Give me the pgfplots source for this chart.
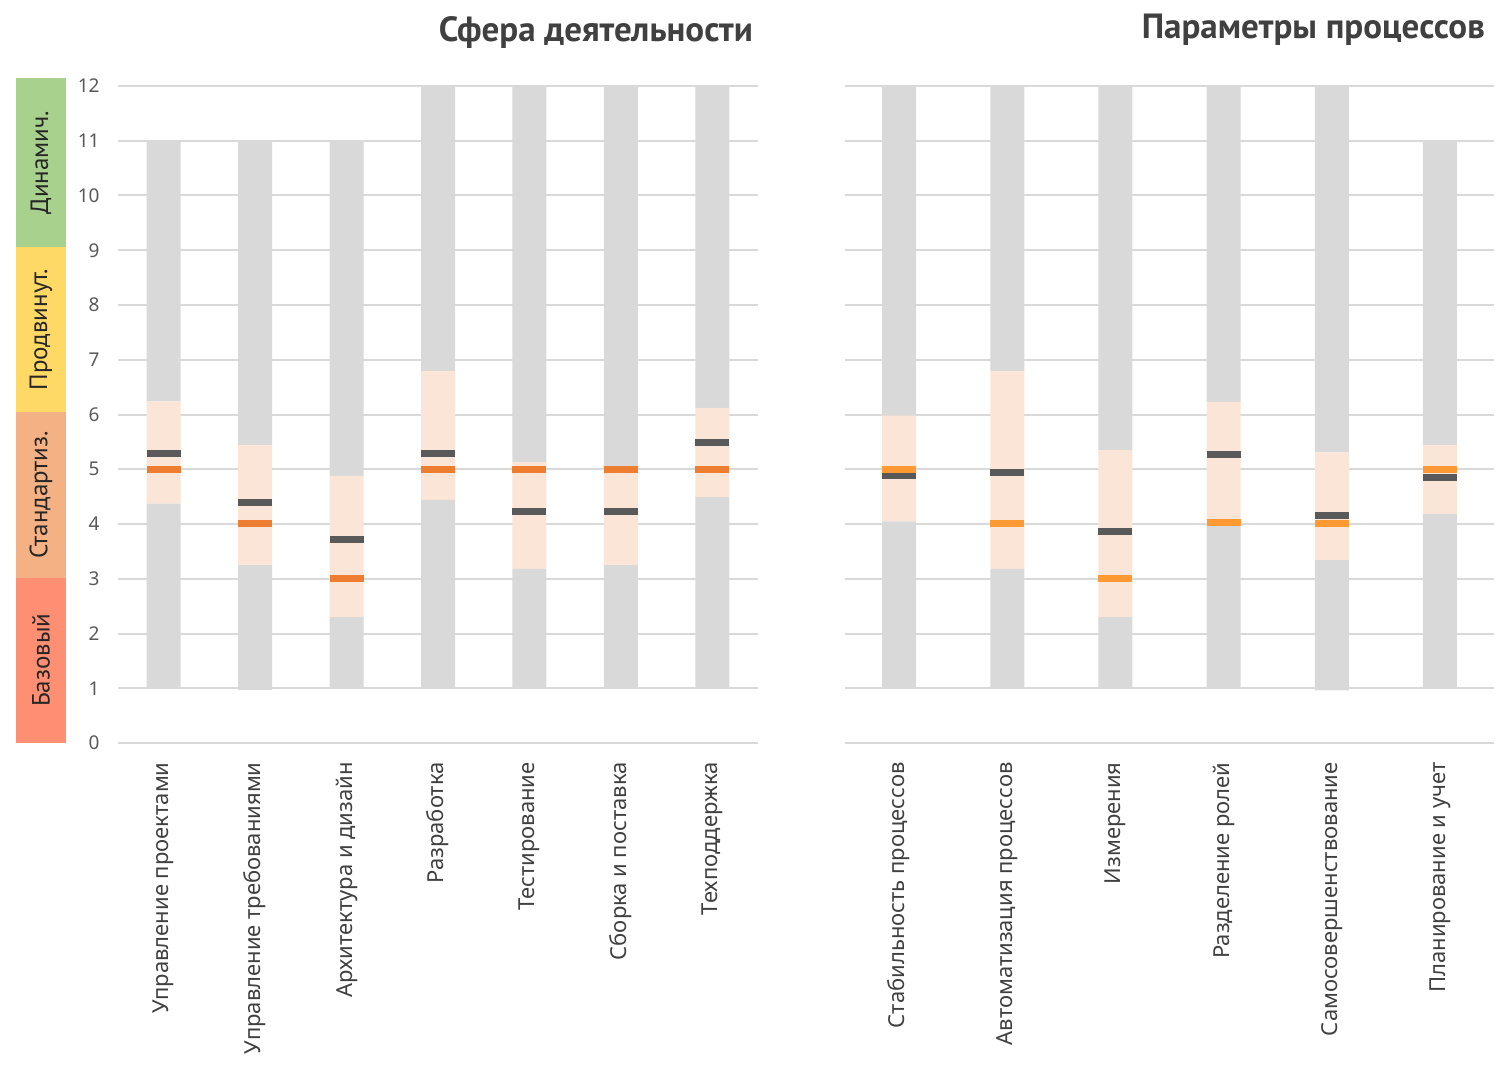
\documentclass[border=0pt]{standalone}
\usepackage{pgfplots}
\usepackage{pgfplotstable}
\pgfplotsset{compat=1.18}
\usepackage{fontspec}
\setmainfont{Noto Sans}
\newfontfamily\titlefont{PT Sans}
\definecolor{barGray}{HTML}{D9D9D9}
\definecolor{peach}{HTML}{FBE5D6}
\definecolor{orangeL}{HTML}{ED7D31}
\definecolor{orangeR}{HTML}{FF9933}
\definecolor{darkM}{HTML}{595959}
\definecolor{gridc}{HTML}{D9D9D9}
\definecolor{bandG}{HTML}{A9D18E}
\definecolor{bandY}{HTML}{FFD966}
\definecolor{bandO}{HTML}{F4B183}
\definecolor{bandR}{HTML}{FF8F73}
\definecolor{tickc}{HTML}{595959}
\definecolor{labc}{HTML}{404040}
\definecolor{titlec}{HTML}{404040}

\pgfplotstableread{
x base low high top orange dark
0 1    4.37 6.24 11 5 5.28
1 0.97 3.25 5.44 11 4 4.40
2 1    2.30 4.88 11 3 3.72
3 1    4.44 6.79 12 5 5.29
4 1    3.18 5.13 12 5 4.23
5 1    3.25 5.04 12 5 4.23
6 1    4.49 6.12 12 5 5.49
}\leftdata

\pgfplotstableread{
x base low high top orange dark
0 1    4.05 5.98 12 5.00 4.89
1 1    3.18 6.79 12 4.00 4.94
2 1    2.30 5.35 12 3.00 3.86
3 1    4.00 6.23 12 4.03 5.27
4 0.96 3.34 5.31 12 4.00 4.15
5 1    4.18 5.44 11 5.00 4.85
}\rightdata

\pgfplotsset{
  panel/.style={scale only axis, height=328.5pt, anchor=south west,
    ymin=0, ymax=12},
  barpanel/.style={panel, ybar stacked, bar width=17pt,
    axis line style={draw=none}, major tick length=0pt,
    ymajorgrids, grid style={draw=gridc, line width=1pt},
    ytick={0,...,12},
    /pgf/number format/assume math mode=true,
    yticklabel style={font=\fontsize{9.5}{11}\selectfont, text=tickc, inner sep=0pt},
    yticklabel shift=9pt,
    xticklabel style={rotate=90, anchor=east, inner sep=0pt,
      font=\fontsize{11}{13}\selectfont, text=labc},
    xticklabel shift=9.5pt,
    clip=false},
  mk/.style={only marks, mark=-, mark size=8.5pt, mark options={draw=#1, line width=3.5pt}},
}
\tikzset{bandlab/.style={rotate=90, font=\titlefont\fontsize{12.5}{14}\selectfont, text=black!85}}

\begin{document}
\begin{tikzpicture}
\useasboundingbox (-59pt,-169pt) rectangle (692.5pt,371.5pt);

% ---------- left panel bars
\begin{axis}[barpanel, at={(0pt,0pt)}, width=320pt,
  xmin=-0.5, xmax=6.5, xtick={0,...,6},
  xticklabels={Управление проектами, Управление требованиями, Архитектура и дизайн, Разработка, Тестирование, Сборка и поставка, Техподдержка}]
\addplot[fill=none, draw=none] table[x=x, y=base] {\leftdata};
\addplot[fill=barGray, draw=none] table[x=x, y expr=\thisrow{low}-\thisrow{base}] {\leftdata};
\addplot[fill=peach, draw=none] table[x=x, y expr=\thisrow{high}-\thisrow{low}] {\leftdata};
\addplot[fill=barGray, draw=none] table[x=x, y expr=\thisrow{top}-\thisrow{high}] {\leftdata};
\end{axis}

% ---------- left panel markers and level bands
\begin{axis}[panel, at={(0pt,0pt)}, width=320pt, xmin=-0.5, xmax=6.5, hide axis, clip=false]
\addplot[mk=orangeL] table[x=x, y=orange] {\leftdata};
\addplot[mk=darkM] table[x=x, y=dark] {\leftdata};
\addplot[fill=bandR, draw=none] coordinates {(-1.6156,0) (-1.0687,0) (-1.0687,3.02) (-1.6156,3.02)} -- cycle;
\addplot[fill=bandO, draw=none] coordinates {(-1.6156,3.02) (-1.0687,3.02) (-1.0687,6.04) (-1.6156,6.04)} -- cycle;
\addplot[fill=bandY, draw=none] coordinates {(-1.6156,6.04) (-1.0687,6.04) (-1.0687,9.06) (-1.6156,9.06)} -- cycle;
\addplot[fill=bandG, draw=none] coordinates {(-1.6156,9.06) (-1.0687,9.06) (-1.0687,12.15) (-1.6156,12.15)} -- cycle;
\node[bandlab] at (axis cs:-1.342,1.51) {Базовый};
\node[bandlab] at (axis cs:-1.342,4.53) {Стандартиз.};
\node[bandlab] at (axis cs:-1.342,7.55) {Продвинут.};
\node[bandlab] at (axis cs:-1.342,10.6) {Динамич.};
\end{axis}

% ---------- right panel bars
\begin{axis}[barpanel, at={(363.5pt,0pt)}, width=324.5pt,
  xmin=-0.5, xmax=5.5, xtick={0,...,5}, yticklabels={},
  xticklabels={Стабильность процессов, Автоматизация процессов, Измерения, Разделение ролей, Самосовершенствование, Планирование и учет}]
\addplot[fill=none, draw=none] table[x=x, y=base] {\rightdata};
\addplot[fill=barGray, draw=none] table[x=x, y expr=\thisrow{low}-\thisrow{base}] {\rightdata};
\addplot[fill=peach, draw=none] table[x=x, y expr=\thisrow{high}-\thisrow{low}] {\rightdata};
\addplot[fill=barGray, draw=none] table[x=x, y expr=\thisrow{top}-\thisrow{high}] {\rightdata};
\end{axis}

% ---------- right panel markers
\begin{axis}[panel, at={(363.5pt,0pt)}, width=324.5pt, xmin=-0.5, xmax=5.5, hide axis, clip=false]
\addplot[mk=darkM] table[x=x, y=dark] {\rightdata};
\addplot[mk=orangeR] table[x=x, y=orange] {\rightdata};
\end{axis}

% ---------- titles
\node[anchor=east, font=\titlefont\bfseries\fontsize{17.5}{20}\selectfont, text=titlec] at (321pt,355pt) {Сфера деятельности};
\node[anchor=east, font=\titlefont\bfseries\fontsize{17.5}{20}\selectfont, text=titlec] at (687pt,356.5pt) {Параметры процессов};
\end{tikzpicture}
\end{document}
